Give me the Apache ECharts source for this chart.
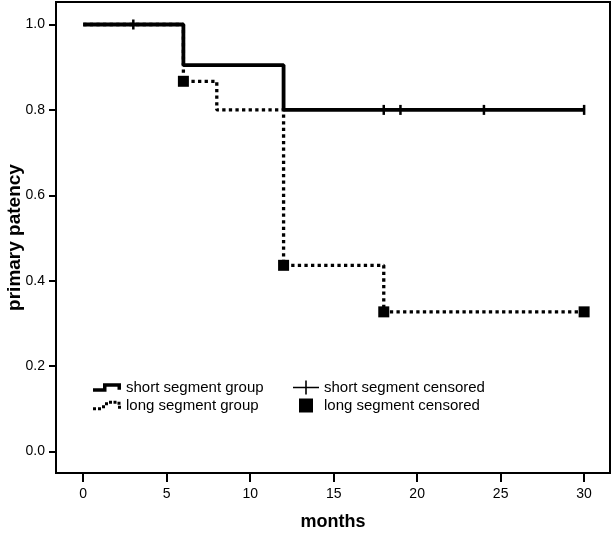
<!DOCTYPE html>
<html><head><meta charset="utf-8">
<script src="https://cdn.jsdelivr.net/npm/echarts@6/dist/echarts.min.js"></script>
<style>html,body{margin:0;padding:0;background:#fff}#c{width:614px;height:535px}</style>
</head><body><div id="c"></div>
<script>
// ---- data ----
const xTicks = [0, 5, 10, 15, 20, 25, 30];
const yTicks = [0, 0.2, 0.4, 0.6, 0.8, 1.0];
const shortMonths = [0, 6, 12, 30];
const shortSurv = [1, 0.905, 0.80, 0.80];
const longMonths = [0, 6, 8, 12, 18, 30];
const longSurv = [1, 0.867, 0.80, 0.436, 0.327, 0.327];
const shortCensMonths = [3, 18, 19, 24, 30];
const shortCensSurv = [1, 0.80, 0.80, 0.80, 0.80];
const longCensMonths = [6, 12, 18, 30];
const longCensSurv = [0.867, 0.436, 0.327, 0.327];
const names = ['short segment group', 'long segment group', 'short segment censored', 'long segment censored'];

const zip = (a, b) => a.map((v, i) => [v, b[i]]);
const FONT = 'Liberation Sans, Arial, sans-serif';

const iconShort = 'path://M0,5.5H10V0.5H28V7H24.5V4H13.5V9H0Z';
const iconLong = 'path://M0,7h3v3h-3z M5,7h3v3h-3z M9,5h3v3h-3z M12,2h3v3h-3z M16,0.5h3v3h-3z M20.5,0.5h3v3h-3z M24.5,1.5h3v3h-3z M25,5.5h3v3h-3z';
const iconPlus = 'path://M0,6.2H26V7.8H0Z M12.2,0H13.8V14H12.2Z';
const iconSquare = 'path://M0,0M26,14M6,0H20V14H6Z';

const chart = echarts.init(document.getElementById('c'), null, {renderer: 'canvas'});
chart.setOption({
  animation: false,
  backgroundColor: '#fff',
  textStyle: {fontFamily: FONT, color: '#000'},
  grid: {left: 56, right: 4, top: 2, bottom: 62, show: true, borderColor: '#000', borderWidth: 2,
         backgroundColor: 'transparent', containLabel: false, outerBoundsMode: 'none'},
  xAxis: {
    type: 'value', min: -1.63, max: 31.55,
    axisLine: {show: true, onZero: false, lineStyle: {color: '#000', width: 2}},
    axisTick: {show: true, customValues: xTicks, length: 9, lineStyle: {color: '#000', width: 2}},
    axisLabel: {customValues: xTicks, margin: 14, fontSize: 14, color: '#000', fontFamily: FONT, formatter: v => String(v)},
    splitLine: {show: false},
    name: 'months', nameLocation: 'middle', nameGap: 40, nameMoveOverlap: false,
    nameTextStyle: {fontWeight: 'bold', fontSize: 18, color: '#000', fontFamily: FONT}
  },
  yAxis: {
    type: 'value', min: -0.0504, max: 1.0527,
    axisLine: {show: true, onZero: false, lineStyle: {color: '#000', width: 2}},
    axisTick: {show: true, customValues: yTicks, length: 7, lineStyle: {color: '#000', width: 2}},
    axisLabel: {customValues: yTicks, margin: 11, fontSize: 14, color: '#000', fontFamily: FONT, formatter: v => v.toFixed(1)},
    splitLine: {show: false},
    name: 'primary patency', nameLocation: 'middle', nameGap: 32, nameMoveOverlap: false,
    nameTextStyle: {fontWeight: 'bold', fontSize: 19, color: '#000', fontFamily: FONT}
  },
  legend: [
    {
      orient: 'vertical', left: 88, top: 375, itemGap: 3, itemWidth: 28, itemHeight: 12,
      itemStyle: {borderWidth: 0, opacity: 1}, lineStyle: {width: 0},
      textStyle: {fontSize: 15, color: '#000', fontFamily: FONT},
      selectedMode: false,
      data: [{name: names[0], icon: iconShort}, {name: names[1], icon: iconLong}]
    },
    {
      orient: 'vertical', left: 288, top: 375, itemGap: 3, itemWidth: 26, itemHeight: 14,
      itemStyle: {borderWidth: 0, opacity: 1}, lineStyle: {width: 0},
      textStyle: {fontSize: 15, color: '#000', fontFamily: FONT},
      selectedMode: false,
      data: [{name: names[2], icon: iconPlus}, {name: names[3], icon: iconSquare}]
    }
  ],
  series: [
    {
      name: names[1], type: 'line', step: 'end', showSymbol: false, clip: false,
      data: zip(longMonths, longSurv), color: '#000',
      lineStyle: {color: '#000', width: 3.3, type: [3.3, 3.3], cap: 'butt'},
      itemStyle: {color: '#000', opacity: 1},
      emphasis: {disabled: true}, z: 2
    },
    {
      name: names[0], type: 'line', step: 'end', showSymbol: false, clip: false,
      data: zip(shortMonths, shortSurv), color: '#000',
      lineStyle: {color: '#000', width: 3.8},
      itemStyle: {color: '#000', opacity: 1},
      emphasis: {disabled: true}, z: 3
    },
    {
      name: names[2], type: 'scatter', symbol: 'rect', symbolSize: [2.5, 10], clip: false,
      data: zip(shortCensMonths, shortCensSurv), color: '#000',
      itemStyle: {color: '#000', opacity: 1}, emphasis: {disabled: true}, z: 4
    },
    {
      name: names[3], type: 'scatter', symbol: 'rect', symbolSize: 11, clip: false,
      data: zip(longCensMonths, longCensSurv), color: '#000',
      itemStyle: {color: '#000', opacity: 1}, emphasis: {disabled: true}, z: 4
    }
  ]
});
</script></body></html>
